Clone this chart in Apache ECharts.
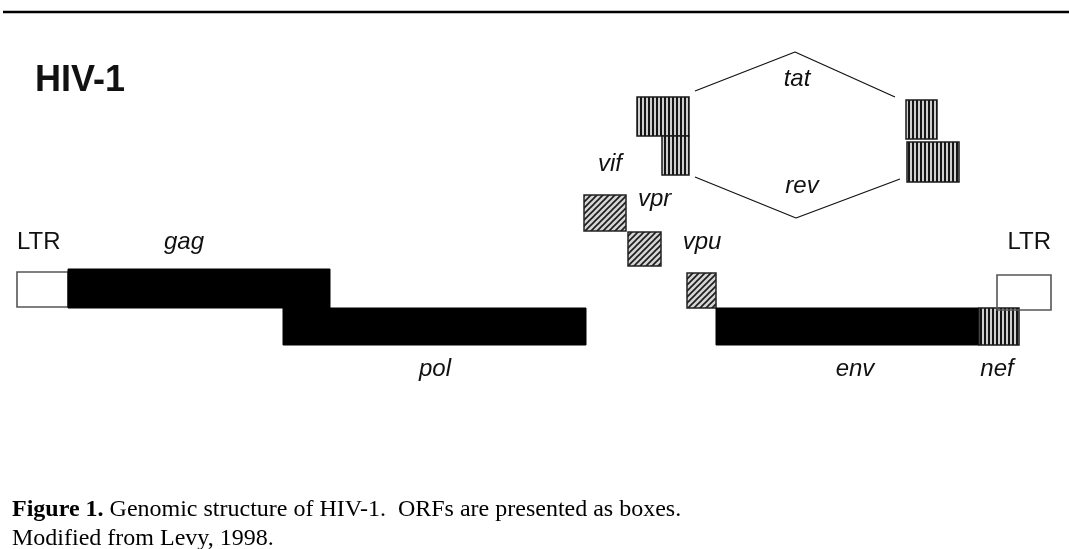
<!DOCTYPE html>
<html>
<head>
<meta charset="utf-8">
<script src="https://cdn.jsdelivr.net/npm/echarts@6/dist/echarts.min.js"></script>
<style>
  html, body { margin: 0; padding: 0; background: #fff; }
  #chart { width: 1069px; height: 549px; }
</style>
</head>
<body>
<div id="chart"></div>
<script>
// ORF boxes (schematic units, one unit = one px of the figure)
const orfNames  = ['LTR', 'gag', 'pol', 'vif a', 'vif b', 'vpr a', 'vpr b', 'tat', 'rev', 'vpu', 'env', 'nef', 'LTR'];
const orfStart  = [17, 68, 283, 637, 662, 584, 628, 906, 907, 687, 716, 979, 997];
const orfEnd    = [68, 330, 586, 689, 689, 626, 661, 937, 959, 716, 979, 1019, 1051];
const orfTop    = [272, 269, 308, 97, 136, 195, 232, 100, 142, 273, 308, 308, 275];
const orfBottom = [307, 308, 345, 136, 175, 231, 266, 139, 182, 308, 345, 345, 310];
const orfKind   = ['open', 'solid', 'solid', 'stripe', 'stripe', 'hatch', 'hatch', 'stripe', 'stripe', 'hatch', 'solid', 'stripe', 'open'];

// splice lines of tat and rev
const tatX = [695, 795, 895];
const tatY = [91, 52, 97];
const revX = [695, 796, 900];
const revY = [177, 218, 179];

// gene labels
const labelText   = ['LTR', 'gag', 'pol', 'vif', 'vpr', 'tat', 'rev', 'vpu', 'env', 'nef', 'LTR'];
const labelX      = [17, 184, 435, 598, 638, 797, 802, 702, 855, 997, 1051];
const labelY      = [242, 242, 369, 164, 199, 79, 186, 242, 369, 369, 242];
const labelAlign  = ['left', 'center', 'center', 'left', 'left', 'center', 'center', 'center', 'center', 'center', 'right'];
const labelItalic = [false, true, true, true, true, true, true, true, true, true, false];

// fill patterns
function stripeTile() {
  const c = document.createElement('canvas');
  c.width = 4; c.height = 4;
  const g = c.getContext('2d');
  g.fillStyle = '#cfcfcf';
  g.fillRect(0, 0, 4, 4);
  g.fillStyle = '#151515';
  g.fillRect(0, 0, 2, 4);
  return c;
}
function hatchTile() {
  const s = 6;
  const c = document.createElement('canvas');
  c.width = s; c.height = s;
  const g = c.getContext('2d');
  g.fillStyle = '#d4d4d4';
  g.fillRect(0, 0, s, s);
  g.strokeStyle = '#1a1a1a';
  g.lineWidth = 1.6;
  g.beginPath();
  g.moveTo(0, s); g.lineTo(s, 0);
  g.moveTo(-1, 1); g.lineTo(1, -1);
  g.moveTo(s - 1, s + 1); g.lineTo(s + 1, s - 1);
  g.stroke();
  return c;
}
const stripe = { image: stripeTile(), repeat: 'repeat' };
const hatch = { image: hatchTile(), repeat: 'repeat' };

const boxData = orfNames.map((n, i) => [orfStart[i], orfEnd[i], orfTop[i], orfBottom[i]]);
const labelData = labelText.map((t, i) => [labelX[i], labelY[i]]);

const myChart = echarts.init(document.getElementById('chart'));
myChart.setOption({
  animation: false,
  backgroundColor: '#fff',
  grid: { left: 0, right: 0, top: 0, bottom: 0 },
  xAxis: { type: 'value', min: 0, max: 1069, show: false },
  yAxis: { type: 'value', min: 0, max: 549, inverse: true, show: false },
  graphic: [
    { type: 'line', shape: { x1: 3, y1: 12, x2: 1069, y2: 12 }, style: { stroke: '#000', lineWidth: 2.5 } },
    {
      type: 'text', left: 35, top: 63,
      style: { text: 'HIV-1', fontFamily: '"Liberation Sans", Arial', fontWeight: 'bold', fontSize: 36, fill: '#111' }
    },
    {
      type: 'text', left: 12, top: 495,
      style: {
        text: '{b|Figure 1.} Genomic structure of HIV-1.  ORFs are presented as boxes.\nModified from Levy, 1998.',
        fontFamily: '"Liberation Serif", "Times New Roman"', fontSize: 24, lineHeight: 29, fill: '#000',
        rich: { b: { fontFamily: '"Liberation Serif", "Times New Roman"', fontWeight: 'bold', fontSize: 24, lineHeight: 29 } }
      }
    }
  ],
  series: [
    {
      type: 'line', data: tatX.map((x, i) => [x, tatY[i]]), symbol: 'none', silent: true,
      lineStyle: { color: '#111', width: 1.2 }
    },
    {
      type: 'line', data: revX.map((x, i) => [x, revY[i]]), symbol: 'none', silent: true,
      lineStyle: { color: '#111', width: 1.2 }
    },
    {
      type: 'custom',
      data: boxData,
      renderItem: function (params, api) {
        const kind = orfKind[params.dataIndex];
        const p0 = api.coord([api.value(0), api.value(2)]);
        const p1 = api.coord([api.value(1), api.value(3)]);
        let style;
        if (kind === 'solid') style = { fill: '#000', stroke: '#000', lineWidth: 1 };
        else if (kind === 'open') style = { fill: 'rgba(255,255,255,0)', stroke: '#555', lineWidth: 1.6 };
        else if (kind === 'stripe') style = { fill: stripe, stroke: '#1a1a1a', lineWidth: 1.5 };
        else style = { fill: hatch, stroke: '#222', lineWidth: 1.5 };
        return {
          type: 'rect',
          shape: { x: p0[0], y: p0[1], width: p1[0] - p0[0], height: p1[1] - p0[1] },
          style: style
        };
      }
    },
    {
      type: 'custom',
      data: labelData,
      renderItem: function (params, api) {
        const i = params.dataIndex;
        const p = api.coord([api.value(0), api.value(1)]);
        return {
          type: 'text', x: p[0], y: p[1],
          style: {
            text: labelText[i], fill: '#111',
            fontFamily: '"Liberation Sans", Arial', fontSize: 24,
            fontStyle: labelItalic[i] ? 'italic' : 'normal',
            align: labelAlign[i], verticalAlign: 'middle'
          }
        };
      }
    }
  ]
});
</script>
</body>
</html>
